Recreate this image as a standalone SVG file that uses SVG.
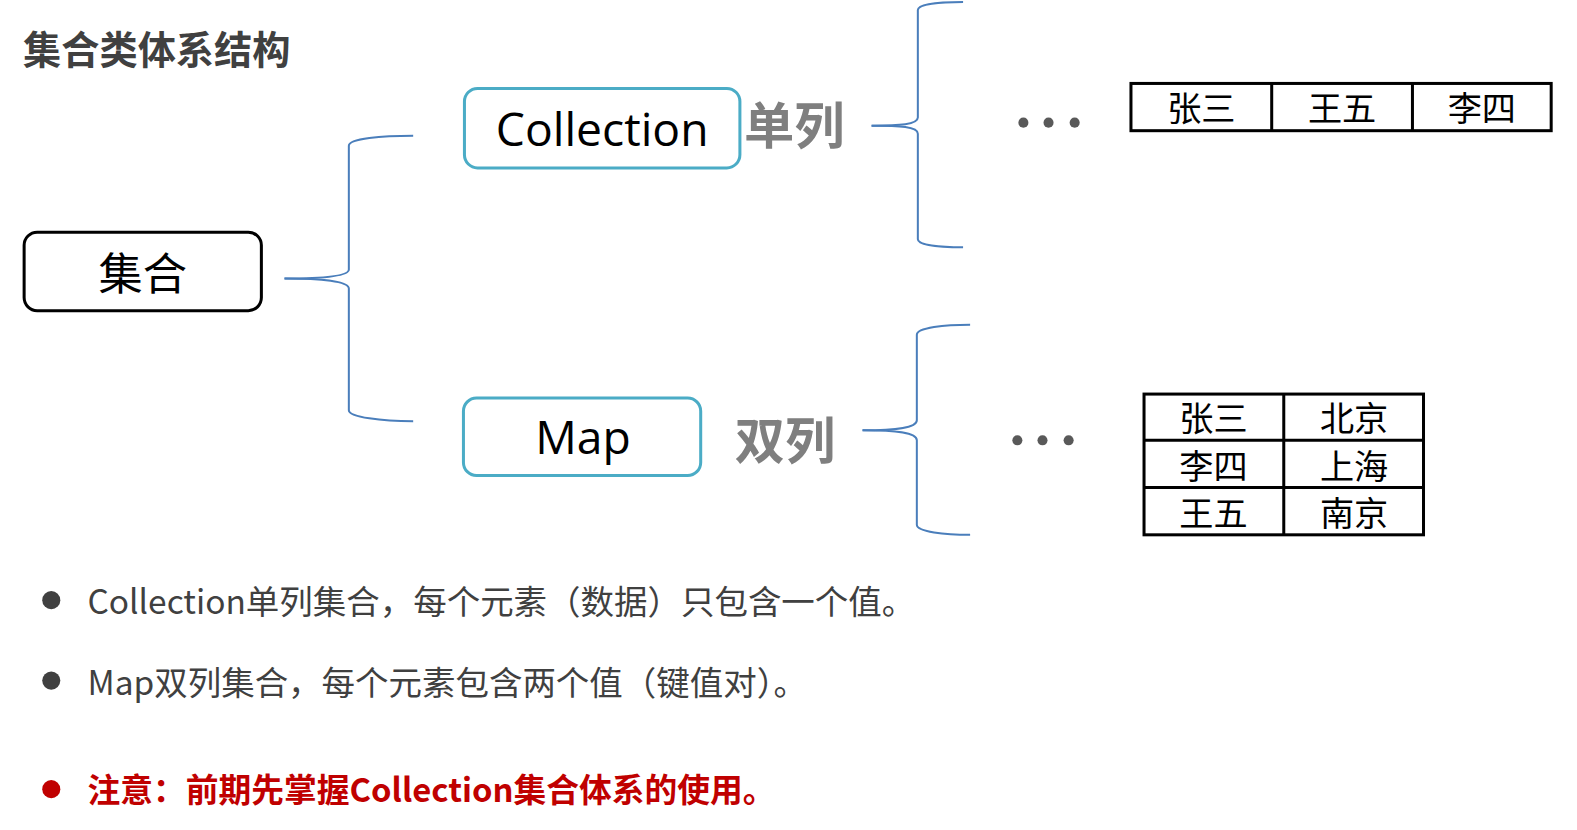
<svg xmlns="http://www.w3.org/2000/svg" width="1577" height="830" viewBox="0 0 1577 830">
<style>
.cjk{font-family:"Noto Sans CJK SC","Noto Sans",sans-serif}
.lat{font-family:"Open Sans","Noto Sans","Noto Sans CJK SC",sans-serif}
.title{font-size:38px;font-weight:bold;fill:#404040}
.node{fill:#fff;stroke-width:3}
.blk{stroke:#000}
.blue{stroke:#4bacc6}
.lbl{font-size:44px;fill:#000;text-anchor:middle}
.big{font-size:46px}
.gray{font-size:50px;font-weight:bold;fill:#7f7f7f}
.brace{fill:none;stroke:#4a7ebb;stroke-width:2}
.cell{font-size:34px;fill:#000;text-anchor:middle}
.tbl{fill:#fff;stroke:#000;stroke-width:3}
.dot{fill:#595959}
.bul{font-size:33.3px;fill:#404040}
.red{font-size:32.6px;fill:#c00000;font-weight:bold}
</style>
<rect width="1577" height="830" fill="#fff"/>
<g transform="scale(1.0053)">
<text class="cjk title" x="23" y="64">集合类体系结构</text>

<g id="connectors">
<path class="brace" d="M283,277 C320,277 347,275 347,268 L347,145 C347,138 380,135 411,135"/>
<path class="brace" d="M283,277 C320,277 347,280 347,287 L347,408 C347,415 380,419 411,419"/>
<path class="brace" d="M867,125 C895,125 913,124 913,117 L913,10 C913,4 935,2 958,2"/>
<path class="brace" d="M867,125 C895,125 913,126 913,133 L913,238 C913,244 935,246 958,246"/>
<path class="brace" d="M858,428 C890,428 912,426 912,418 L912,333 C912,326 940,323 965,323"/>
<path class="brace" d="M858,428 C890,428 912,430 912,438 L912,522 C912,529 940,532 965,532"/>
</g>

<g id="node-jihe">
<rect class="node blk" x="24" y="231" width="236" height="78" rx="13"/>
<text class="cjk lbl" x="142" y="288">集合</text>
</g>

<g id="node-collection">
<rect class="node blue" x="462" y="88" width="274" height="79" rx="13"/>
<text class="lat lbl big" x="599" y="145">Collection</text>
</g>
<g id="label-danlie"><text class="cjk gray" x="740" y="143">单列</text></g>

<g id="node-map">
<rect class="node blue" x="461" y="396" width="236" height="77" rx="13"/>
<text class="lat lbl big" x="580" y="452">Map</text>
</g>
<g id="label-shuanglie"><text class="cjk gray" x="731" y="457">双列</text></g>

<g id="dots1">
<circle class="dot" cx="1018" cy="122" r="5"/><circle class="dot" cx="1043" cy="122" r="5"/><circle class="dot" cx="1069" cy="122" r="5"/>
</g>
<g id="dots2">
<circle class="dot" cx="1012" cy="438" r="5"/><circle class="dot" cx="1037" cy="438" r="5"/><circle class="dot" cx="1063" cy="438" r="5"/>
</g>

<g id="table-list">
<rect class="tbl" x="1125" y="83" width="418" height="47"/>
<line x1="1265" y1="83" x2="1265" y2="130" stroke="#000" stroke-width="3"/>
<line x1="1405" y1="83" x2="1405" y2="130" stroke="#000" stroke-width="3"/>
<text class="cjk cell" x="1195" y="120">张三</text>
<text class="cjk cell" x="1335" y="120">王五</text>
<text class="cjk cell" x="1474" y="120">李四</text>
</g>

<g id="table-map">
<rect class="tbl" x="1138" y="392" width="278" height="140"/>
<line x1="1277" y1="392" x2="1277" y2="532" stroke="#000" stroke-width="3"/>
<line x1="1138" y1="438" x2="1416" y2="438" stroke="#000" stroke-width="3"/>
<line x1="1138" y1="485" x2="1416" y2="485" stroke="#000" stroke-width="3"/>
<text class="cjk cell" x="1207" y="429">张三</text>
<text class="cjk cell" x="1347" y="429">北京</text>
<text class="cjk cell" x="1207" y="476">李四</text>
<text class="cjk cell" x="1347" y="476">上海</text>
<text class="cjk cell" x="1207" y="523">王五</text>
<text class="cjk cell" x="1347" y="523">南京</text>
</g>

<g id="bullets">
<circle cx="51" cy="597" r="9" fill="#404040"/>
<text class="cjk bul" x="87" y="611">Collection单列集合，每个元素（数据）只包含一个值。</text>
<circle cx="51" cy="677" r="9" fill="#404040"/>
<text class="cjk bul" x="87" y="691">Map双列集合，每个元素包含两个值（键值对）。</text>
<circle cx="51" cy="785" r="9" fill="#c00000"/>
<text class="cjk red" x="87" y="798">注意：前期先掌握Collection集合体系的使用。</text>
</g>
</g>
</svg>
